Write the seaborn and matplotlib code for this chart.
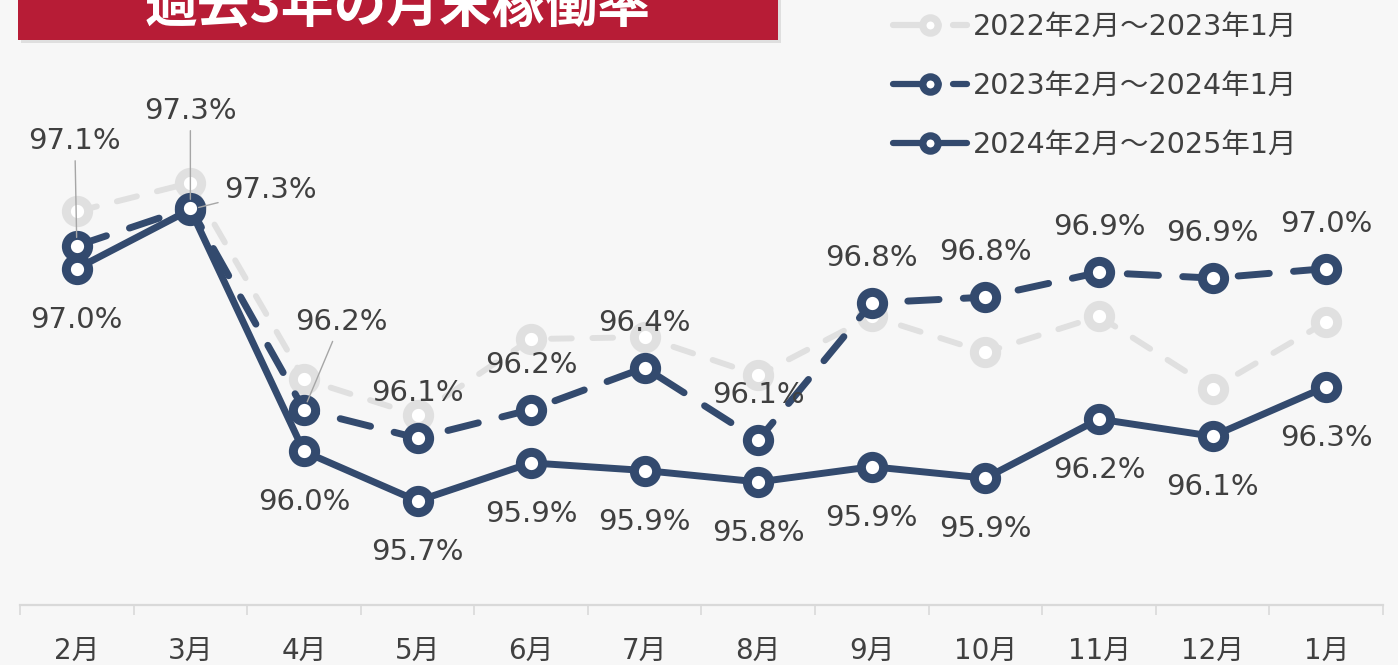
import matplotlib
matplotlib.use('Agg')
import matplotlib.pyplot as plt
from matplotlib.patches import Rectangle
from matplotlib.lines import Line2D
import seaborn as sns
import pandas as pd

# Data (month-end occupancy, %).
months = ['2月', '3月', '4月', '5月', '6月', '7月', '8月', '9月', '10月', '11月', '12月', '1月']
rate_2022 = [97.26, 97.41, 96.38, 96.19, 96.59, 96.60, 96.40, 96.71, 96.52, 96.71, 96.33, 96.68]
rate_2023 = [97.08, 97.28, 96.22, 96.07, 96.22, 96.44, 96.06, 96.78, 96.81, 96.94, 96.91, 96.96]
rate_2024 = [96.96, 97.27, 96.00, 95.74, 95.94, 95.90, 95.84, 95.92, 95.86, 96.17, 96.08, 96.34]
series_names = ['2022年2月～2023年1月', '2023年2月～2024年1月', '2024年2月～2025年1月']
title = '過去3年の月末稼働率'

# Styling constants.
W, H, DPI = 1398, 665, 100
BG = '#f7f7f7'
NAVY = '#334a6e'
GRAY = '#e0e0e0'
RED = '#b71c36'
TEXT = '#404040'
LEADER = '#a6a6a6'
AXIS = '#d9d9d9'
LW = 5.0
MS = 16
MEW = 6.5

sns.set_theme(style='white')
plt.rcParams['font.family'] = ['DejaVu Sans', 'Noto Sans CJK JP']

fig = plt.figure(figsize=(W / DPI, H / DPI), dpi=DPI, facecolor=BG)
ax = fig.add_axes([20 / W, (H - 605) / H, 1363 / W, 605 / H])
ax.set_facecolor(BG)

df = pd.DataFrame({'month': months, 's1': rate_2022, 's2': rate_2023, 's3': rate_2024})

line_kws = dict(marker='o', markersize=MS, markerfacecolor='white', markeredgewidth=MEW,
                dash_capstyle='round', solid_capstyle='round', sort=False, errorbar=None, ax=ax)
sns.lineplot(data=df, x='month', y='s1', color=GRAY, linewidth=LW * 0.85,
             markeredgecolor=GRAY, linestyle=(0, (3.5, 3.5)), zorder=2, **line_kws)
sns.lineplot(data=df, x='month', y='s3', color=NAVY, linewidth=LW,
             markeredgecolor=NAVY, linestyle='-', zorder=3, **line_kws)
sns.lineplot(data=df, x='month', y='s2', color=NAVY, linewidth=LW,
             markeredgecolor=NAVY, linestyle=(0, (4.5, 3.5)), zorder=4, **line_kws)

ax.set_xlim(-0.5, len(months) - 0.5)
ax.set_ylim(95.194, 98.370)
ax.set_xlabel('')
ax.set_ylabel('')
ax.set_yticks([])
for side in ['top', 'left', 'right']:
    ax.spines[side].set_visible(False)
ax.spines['bottom'].set_color(AXIS)
ax.spines['bottom'].set_linewidth(1.6)
ax.set_xticks(range(len(months)))
ax.set_xticklabels(months)
ax.set_xticks([i - 0.5 for i in range(len(months) + 1)], minor=True)
ax.tick_params(axis='x', which='major', bottom=False, length=0, pad=23, labelsize=20, labelcolor=TEXT)
ax.tick_params(axis='x', which='minor', bottom=True, length=7.5, width=1.2, color=AXIS, direction='out')

# Data labels: (dx, dy) offsets in pixels; leader lines for the crowded ones.
above = {i: (0, 45) for i in range(len(months))}
below = {i: (0, -51) for i in range(len(months))}
above[0] = (-2, 105)
above[1] = (0, 97)
above[2] = (37, 88)
below[1] = (80, 20)
leaders_above = {0, 1, 2}
leaders_below = {1}

for i, v in enumerate(rate_2023):
    arrow = dict(arrowstyle='-', color=LEADER, lw=1, shrinkA=2, shrinkB=6) if i in leaders_above else None
    ax.annotate(f'{v:.1f}%', xy=(i, v), xytext=above[i], textcoords='offset pixels',
                ha='center', va='center', fontsize=21, color=TEXT, arrowprops=arrow, zorder=6)
for i, v in enumerate(rate_2024):
    arrow = dict(arrowstyle='-', color=LEADER, lw=1, shrinkA=2, shrinkB=6) if i in leaders_below else None
    ax.annotate(f'{v:.1f}%', xy=(i, v), xytext=below[i], textcoords='offset pixels',
                ha='center', va='center', fontsize=21, color=TEXT, arrowprops=arrow, zorder=6)

# Legend (handles drawn like the original: line, marker, short dash)
LEG_LW, LEG_MS, LEG_MEW = 4.5, 11, 5.2
leg_dash = (0, (7.3, 2.3))
handles = [
    Line2D([], [], color=GRAY, lw=LEG_LW, linestyle=leg_dash, marker='o', markersize=LEG_MS,
           markerfacecolor='white', markeredgecolor=GRAY, markeredgewidth=LEG_MEW, dash_capstyle='round'),
    Line2D([], [], color=NAVY, lw=LEG_LW, linestyle=leg_dash, marker='o', markersize=LEG_MS,
           markerfacecolor='white', markeredgecolor=NAVY, markeredgewidth=LEG_MEW, dash_capstyle='round'),
    Line2D([], [], color=NAVY, lw=LEG_LW, linestyle='-', marker='o', markersize=LEG_MS,
           markerfacecolor='white', markeredgecolor=NAVY, markeredgewidth=LEG_MEW, solid_capstyle='round'),
]
fig.legend(handles, series_names, loc='upper left', bbox_to_anchor=(893 / W, 1 - 13 / H),
           frameon=False, fontsize=20.5, labelcolor=TEXT, handlelength=2.6, handletextpad=0.2,
           labelspacing=1.08, borderpad=0, borderaxespad=0)

# Title banner, clipped by the top edge as in the original.
fig.patches.append(Rectangle((21 / W, 1 - 43 / H), 760 / W, 80 / H, transform=fig.transFigure,
                             facecolor='#cfcfcf', edgecolor='none', alpha=0.6, zorder=0))
fig.patches.append(Rectangle((18 / W, 1 - 40 / H), 760 / W, 80 / H, transform=fig.transFigure,
                             facecolor=RED, edgecolor='none', zorder=1))
fig.text(398 / W, 1 - 22 / H, title, ha='center', va='baseline', fontsize=38, fontweight='bold',
         color='white', family=['Noto Sans CJK JP', 'DejaVu Sans'])

fig.savefig('out.png', dpi=DPI, facecolor=BG)
